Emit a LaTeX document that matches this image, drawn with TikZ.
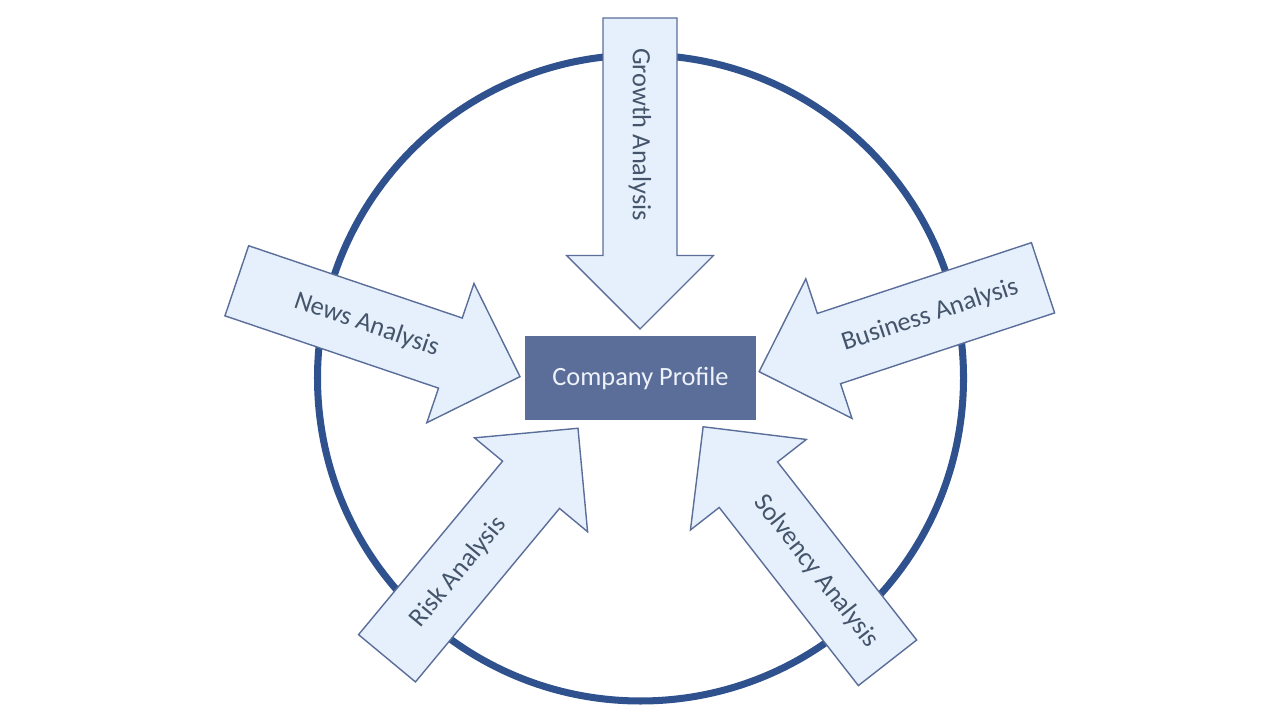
\documentclass[tikz,border=0pt]{standalone}
\usepackage{fontspec}
\setmainfont{Carlito}
\usetikzlibrary{positioning}

\definecolor{ringblue}{HTML}{2F528F}
\definecolor{profilefill}{HTML}{5B6E9A}
\definecolor{profiletext}{HTML}{EEF2FA}
\definecolor{arrowfill}{HTML}{E6F0FC}
\definecolor{arrowline}{HTML}{5B6E9A}
\definecolor{labeltext}{HTML}{44546A}

% name, tail, direction, length, label position, label angle, text
\newcommand{\inarrow}[7]{%
  \begin{scope}[shift={#2}, rotate=#3]
    \draw[arrowbody] (0,-0.37) -- ({#4-0.735},-0.37) -- ({#4-0.735},-0.735) -- (#4,0)
      -- ({#4-0.735},0.735) -- ({#4-0.735},0.37) -- (0,0.37) -- cycle;
    \node[arrowlabel, rotate=#6] (#1) at (#5,0) {#7};
  \end{scope}}

\begin{document}
\begin{tikzpicture}[
        profile/.style={rectangle, fill=profilefill, minimum width=2.31cm, minimum height=0.84cm, text=profiletext, font=\fontsize{7.5}{9}\selectfont},
        ring/.style={draw=ringblue, line width=2pt},
        arrowbody/.style={draw=arrowline, fill=arrowfill, line width=0.4pt},
        arrowlabel/.style={text=labeltext, font=\fontsize{7.5}{9}\selectfont}
    ]
        \useasboundingbox (0,0) rectangle (12.8,7.2);

        \node[profile] (profile) at (6.405,3.42) {Company Profile};
        \draw[ring] (profile.center) circle (3.23);

        \inarrow{growth}{(6.40,7.02)}{-90}{3.11}{1.165}{-90}{Growth Analysis}
        \inarrow{news}{(2.368,4.392)}{-18.7}{2.99}{1.37}{-18.7}{News Analysis}
        \inarrow{business}{(10.43,4.422)}{198.3}{2.99}{1.19}{18.3}{Business Analysis}
        \inarrow{risk}{(3.87,0.617)}{50.3}{2.99}{1.12}{50.3}{Risk Analysis}
        \inarrow{solvency}{(8.875,0.572)}{128}{2.995}{1.16}{-52}{Solvency Analysis}
    \end{tikzpicture}
\end{document}
